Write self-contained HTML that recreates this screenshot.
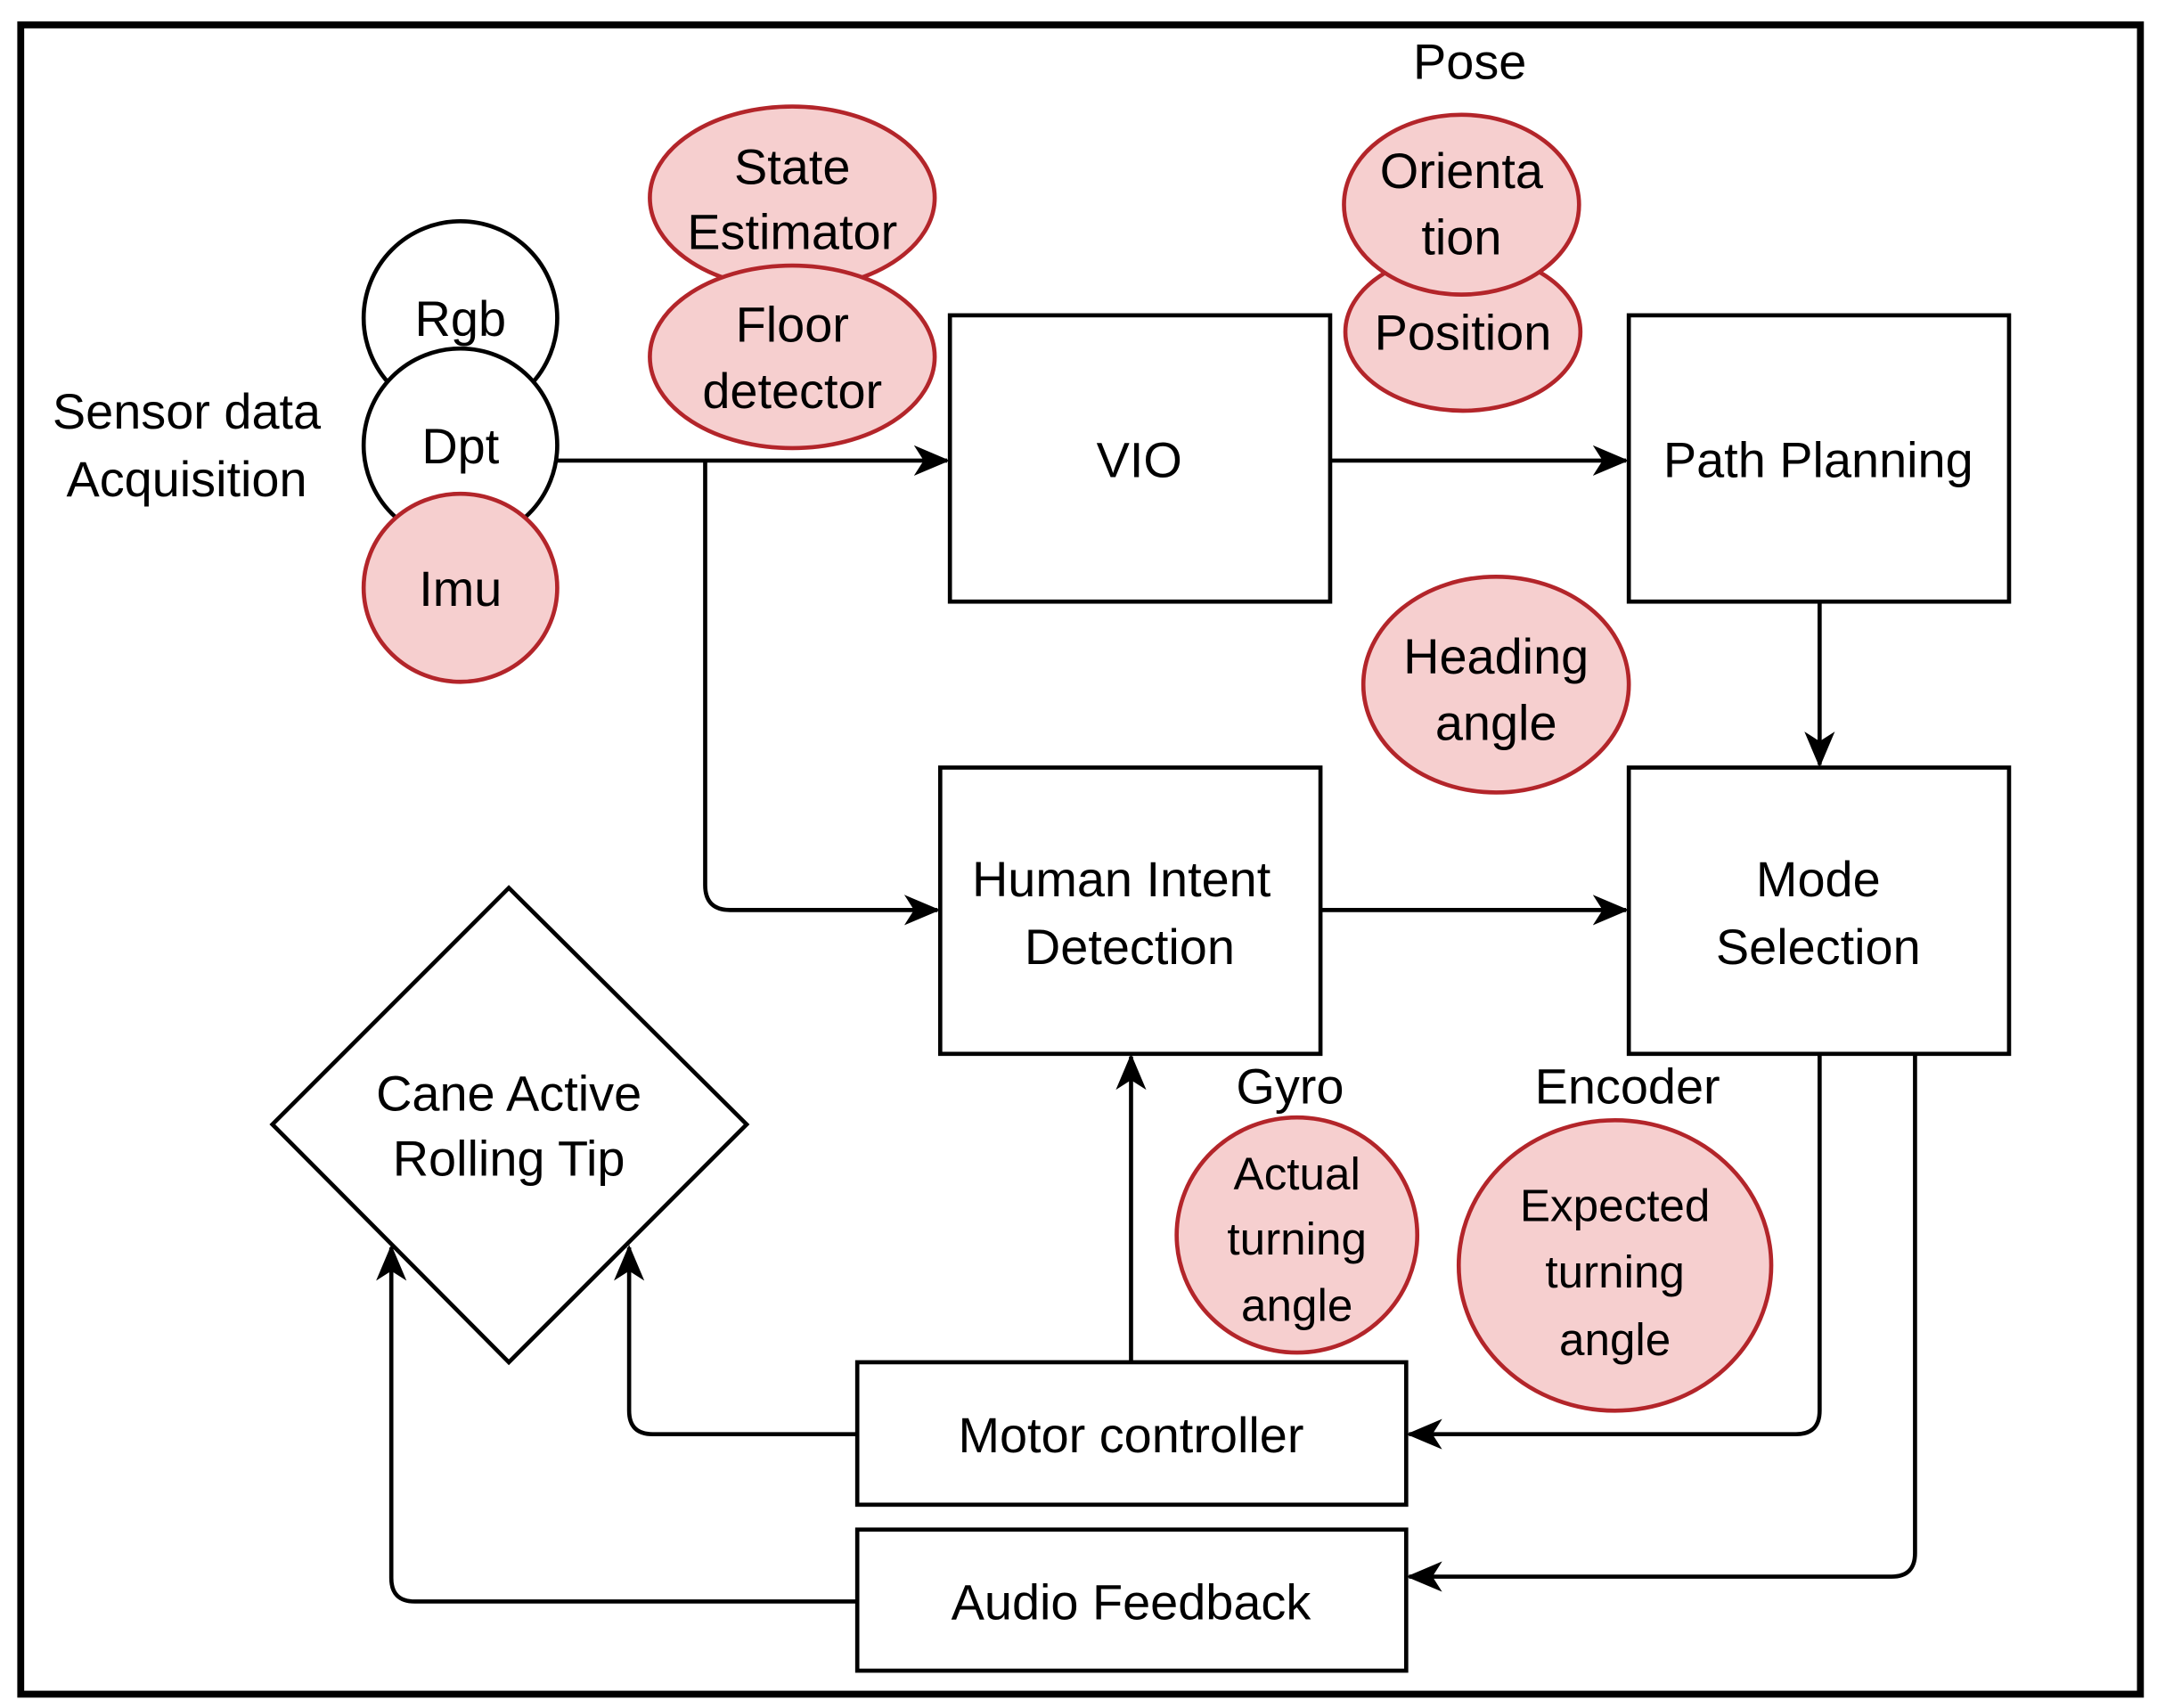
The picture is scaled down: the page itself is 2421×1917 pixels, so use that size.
<!DOCTYPE html>
<html><head><meta charset="utf-8"><style>
html,body{margin:0;padding:0;background:#fff;}
svg{display:block;}
text{font-family:"Liberation Sans",sans-serif;font-size:36px;fill:#000;text-anchor:middle;}
</style></head><body>
<svg width="2421" height="1917" viewBox="0 0 1560 1235" preserveAspectRatio="none" xmlns="http://www.w3.org/2000/svg">
<defs><marker id="a" markerWidth="10" markerHeight="10" refX="9" refY="5" orient="auto" markerUnits="userSpaceOnUse" viewBox="0 0 10 10"><path d="M0,0 L10,5 L0,10 L3,5 z" fill="#000"/></marker>
<marker id="b" markerWidth="26" markerHeight="26" refX="24" refY="13" orient="auto" markerUnits="userSpaceOnUse"><path d="M0,2 L26,13 L0,24 L7,13 z" fill="#000"/></marker></defs>
<rect x="15" y="18" width="1533" height="1207" fill="#fff" stroke="#000" stroke-width="5"/>
<g fill="none" stroke="#000" stroke-width="3">
<path d="M403,333 H685" marker-end="url(#b)"/>
<path d="M510,333 V640 Q510,658 528,658 H678" marker-end="url(#b)"/>
<path d="M962,333 H1176" marker-end="url(#b)"/>
<path d="M1316,435 V553" marker-end="url(#b)"/>
<path d="M955,658 H1176" marker-end="url(#b)"/>
<path d="M818,985 V764" marker-end="url(#b)"/>
<path d="M1316,762 V1020 Q1316,1037 1299,1037 H1019" marker-end="url(#b)"/>
<path d="M1385,762 V1123 Q1385,1140 1368,1140 H1019" marker-end="url(#b)"/>
<path d="M620,1037 H472 Q455,1037 455,1020 V902" marker-end="url(#b)"/>
<path d="M620,1158 H300 Q283,1158 283,1141 V902" marker-end="url(#b)"/>
</g>
<g stroke="#000" stroke-width="3" fill="#fff">
<rect x="687" y="228" width="275" height="207"/>
<rect x="1178" y="228" width="275" height="207"/>
<rect x="680" y="555" width="275" height="207"/>
<rect x="1178" y="555" width="275" height="207"/>
<rect x="620" y="985" width="397" height="103"/>
<rect x="620" y="1106" width="397" height="102"/>
<path d="M368,642 L540,813 L368,985 L197,813 z"/>
<ellipse cx="333" cy="230" rx="70" ry="70"/>
<ellipse cx="333" cy="322" rx="70" ry="70"/>
</g>
<g stroke="#b3252a" stroke-width="3" fill="#f6cfcf">
<ellipse cx="333" cy="425" rx="70" ry="68"/>
<ellipse cx="573" cy="143" rx="103" ry="66"/>
<ellipse cx="573" cy="258" rx="103" ry="66"/>
<ellipse cx="1058" cy="240" rx="85" ry="57"/>
<ellipse cx="1057" cy="148" rx="85" ry="65"/>
<ellipse cx="1082" cy="495" rx="96" ry="78"/>
<ellipse cx="938" cy="893" rx="87" ry="85"/>
<ellipse cx="1168" cy="915" rx="113" ry="105"/>
</g>
<text x="333" y="243">Rgb</text>
<text x="333" y="335">Dpt</text>
<text x="333" y="438">Imu</text>
<text x="135" y="310">Sensor data</text>
<text x="135" y="359">Acquisition</text>
<text x="573" y="133">State</text>
<text x="573" y="180">Estimator</text>
<text x="573" y="247">Floor</text>
<text x="573" y="295">detector</text>
<text x="1063" y="57">Pose</text>
<text x="1057" y="136">Orienta</text>
<text x="1057" y="184">tion</text>
<text x="1058" y="253">Position</text>
<text x="824" y="345">VIO</text>
<text x="1315" y="345">Path Planning</text>
<text x="1082" y="487">Heading</text>
<text x="1082" y="535">angle</text>
<text x="811" y="648">Human Intent</text>
<text x="817" y="697">Detection</text>
<text x="1315" y="648">Mode</text>
<text x="1315" y="697">Selection</text>
<text x="368" y="803">Cane Active</text>
<text x="368" y="850">Rolling Tip</text>
<text x="933" y="798">Gyro</text>
<text x="1177" y="798">Encoder</text>
<text x="938" y="860" style="font-size:33px">Actual</text>
<text x="938" y="907" style="font-size:33px">turning</text>
<text x="938" y="955" style="font-size:33px">angle</text>
<text x="1168" y="883" style="font-size:33px">Expected</text>
<text x="1168" y="931" style="font-size:33px">turning</text>
<text x="1168" y="980" style="font-size:33px">angle</text>
<text x="818" y="1050">Motor controller</text>
<text x="818" y="1171">Audio Feedback</text>
</svg>
</body></html>
